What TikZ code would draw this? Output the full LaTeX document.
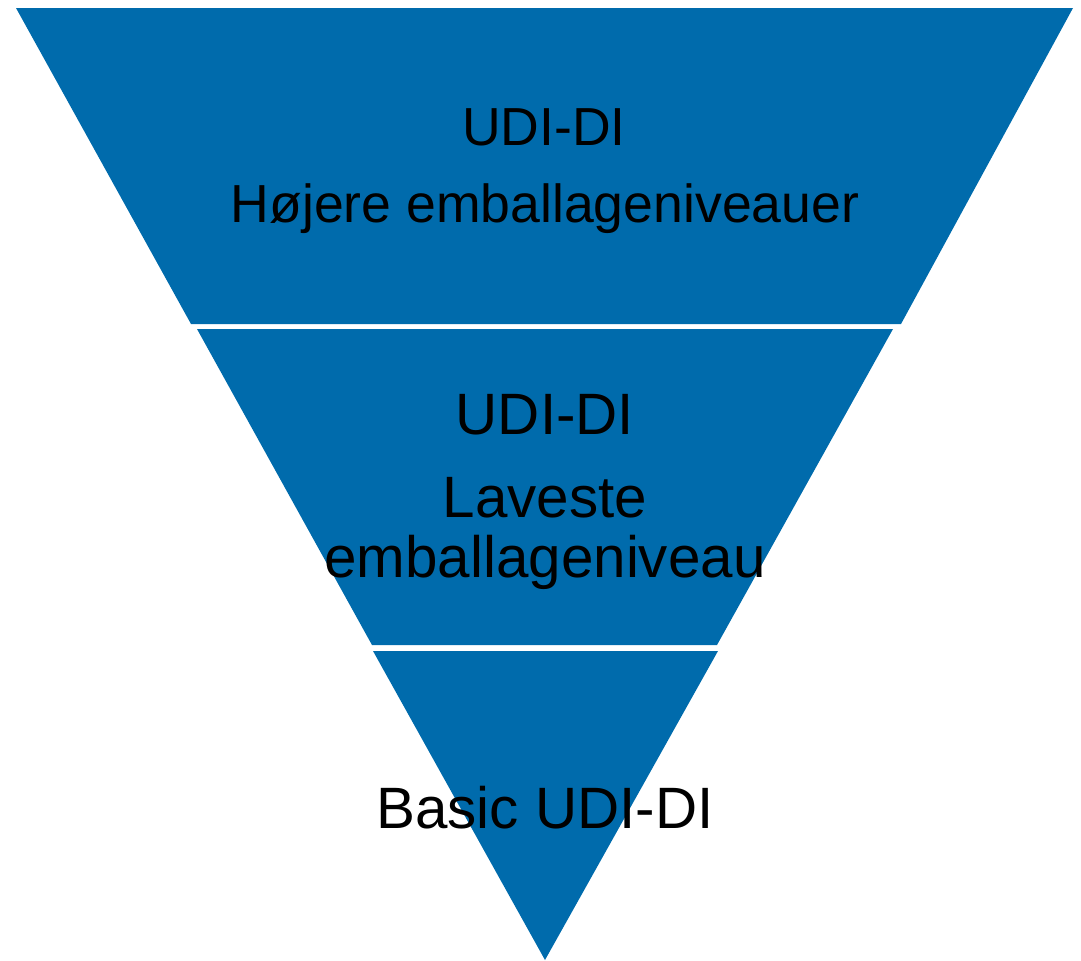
\documentclass[tikz,border=0pt]{standalone}
\usepackage{fontspec}
\setmainfont{Liberation Sans}
\usepackage{tikz}
\definecolor{udiblue}{RGB}{0,107,172}
\tikzstyle{level}=[fill=udiblue, draw=none]
\tikzstyle{small}=[anchor=base, inner sep=0pt, font=\fontsize{38.1}{40}\selectfont]
\tikzstyle{big}=[anchor=base, inner sep=0pt, font=\fontsize{41.5}{44}\selectfont]

\begin{document}
\begin{tikzpicture}[x=0.025cm, y=-0.025cm]
                    \useasboundingbox (0, 0) rectangle (1081, 961);
                    % three levels of the funnel
                    \fill[level] (16, 8) -- (1073, 8) -- (901, 324) -- (191, 324) -- cycle;
                    \fill[level] (197, 329) -- (893, 329) -- (717, 645) -- (372, 645) -- cycle;
                    \fill[level] (373, 651) -- (718, 651) -- (545, 960) -- cycle;
                    \node[small] (top1) at (544, 145) {UDI-DI};
                    \node[small] (top2) at (545, 222) {Højere emballageniveauer};
                    \node[big] (mid1) at (545, 434) {UDI-DI};
                    \node[big] (mid2) at (545, 517) {Laveste};
                    \node[big] (mid3) at (545, 577) {emballageniveau};
                    \node[big] (bot) at (545, 828) {Basic UDI-DI};
                \end{tikzpicture}
\end{document}
